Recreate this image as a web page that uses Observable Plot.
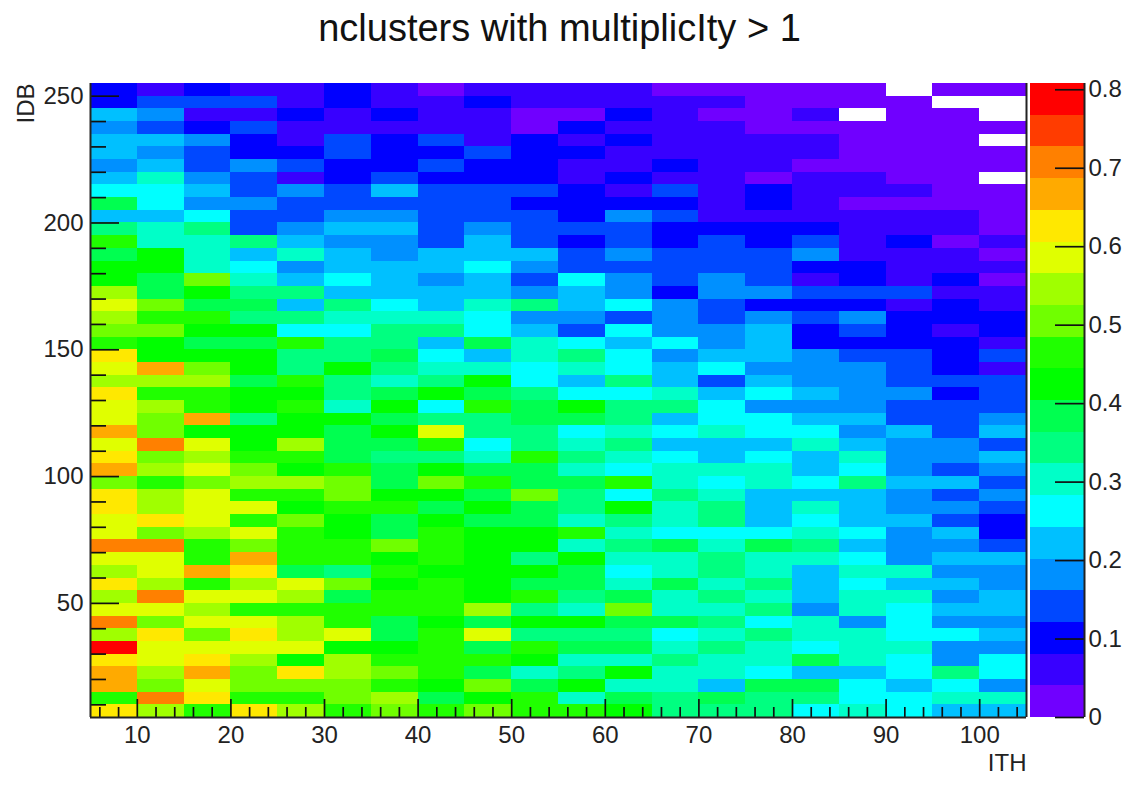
<!DOCTYPE html>
<html>
<head>
<meta charset="utf-8">
<script src="https://cdn.jsdelivr.net/npm/d3@7"></script>
<script src="https://cdn.jsdelivr.net/npm/@observablehq/plot@0.6"></script>
<style>
html,body{margin:0;padding:0;background:#fff;overflow:hidden}
#wrap{position:relative;width:1127px;height:793px}
#wrap svg{position:absolute;left:0;top:0;display:block;max-width:none}
</style>
</head>
<body>
<div id="wrap"></div>
<script>
const titleText = "nclusters with multiplicIty > 1";
// Bin lower edges
const ithEdges = [5,10,15,20,25,30,35,40,45,50,55,60,65,70,75,80,85,90,95,100];
const idbTopEdges = [250,245,240,235,230,225,220,215,210,205,200,195,190,185,180,175,170,165,160,155,150,145,140,135,130,125,120,115,110,105,100,95,90,85,80,75,70,65,60,55,50,45,40,35,30,25,20,15,10,5];
const binWidth = 5;
// Values in hundredths, one row per IDB bin from the top row down; null = empty bin
const valueRows = [
[10,6,10,6,6,10,6,2,6,6,6,6,2,2,2,2,2,null,2,2],
[10,14,14,14,6,10,6,6,10,6,6,6,6,6,2,2,2,2,null,null],
[22,18,6,6,10,6,10,6,6,2,2,10,6,2,2,6,null,2,2,null],
[18,14,10,14,6,6,6,6,6,2,10,6,6,6,2,2,2,2,2,2],
[22,22,18,10,6,14,10,14,6,10,6,10,6,6,6,6,2,2,2,null],
[22,18,14,10,10,14,10,10,14,10,10,6,6,6,6,6,2,2,2,2],
[18,22,14,18,14,10,10,14,10,10,6,6,10,6,6,2,2,2,2,2],
[22,30,18,14,6,10,14,10,10,10,6,10,6,6,2,6,6,2,2,null],
[26,26,22,14,18,14,22,14,14,14,10,6,14,6,10,6,6,6,2,2],
[38,26,18,18,14,14,14,14,14,10,10,10,10,6,10,6,2,2,2,2],
[22,22,26,14,14,18,18,14,14,14,10,18,14,6,6,6,6,6,6,2],
[34,30,34,14,18,22,22,14,18,14,14,14,10,10,10,10,6,6,6,2],
[46,30,30,34,22,18,18,14,22,14,10,14,10,14,10,14,6,10,2,6],
[38,42,30,22,30,22,18,22,22,22,14,18,14,14,14,18,6,6,6,2],
[42,42,30,26,18,22,22,22,26,18,14,14,14,14,14,10,10,6,6,6],
[42,38,50,30,22,26,22,18,22,14,26,18,14,18,14,6,10,6,10,2],
[54,38,42,34,34,22,22,22,22,18,22,18,10,18,18,14,14,14,6,6],
[58,50,38,38,22,34,26,22,30,34,22,26,18,14,10,10,10,6,10,6],
[54,46,46,34,34,30,30,30,26,18,18,14,18,14,18,14,18,10,10,10],
[50,50,42,42,26,26,34,34,26,22,14,26,18,18,22,10,14,10,6,10],
[46,42,38,38,46,34,34,22,38,30,26,22,26,18,22,10,10,10,10,6],
[62,42,42,42,34,34,38,26,22,30,34,26,18,22,22,18,14,14,10,14],
[58,66,50,42,34,42,34,30,30,26,30,26,22,26,18,18,18,14,10,6],
[54,54,54,38,46,34,30,34,42,26,22,34,22,14,22,18,18,14,14,14],
[62,46,46,42,42,34,38,42,38,34,26,26,30,22,26,22,18,18,10,14],
[58,54,46,42,46,30,42,26,46,38,42,34,34,26,18,18,18,14,14,14],
[58,50,66,34,42,42,38,34,34,38,38,34,22,26,26,22,22,14,14,18],
[66,50,42,42,42,38,42,58,34,34,26,30,26,30,26,26,18,22,14,22],
[58,70,58,42,54,38,38,46,26,34,30,34,22,22,22,30,22,18,18,14],
[62,50,54,46,46,38,34,34,30,46,34,30,26,22,26,22,30,18,18,22],
[66,54,58,50,42,46,38,42,38,38,30,26,30,30,30,22,26,18,14,18],
[50,46,50,54,54,50,38,50,46,38,38,46,30,26,30,26,34,22,22,14],
[62,54,58,46,46,50,42,42,38,50,34,26,34,30,22,22,22,18,14,18],
[62,54,58,58,42,46,46,38,42,38,34,42,30,34,22,30,22,18,18,14],
[58,62,58,46,50,42,38,42,38,38,30,34,30,34,22,26,22,22,14,10],
[58,50,54,58,46,42,38,46,42,42,46,30,26,26,26,30,26,18,22,10],
[70,70,46,50,46,46,50,46,42,42,30,34,38,30,38,34,22,18,18,14],
[58,58,46,66,46,46,42,46,42,34,42,30,30,34,30,30,26,18,22,22],
[54,58,66,62,38,34,46,42,42,42,38,26,30,34,30,22,30,30,18,18],
[62,54,46,54,58,50,42,46,42,38,38,30,38,30,34,22,26,22,22,18],
[54,70,58,58,54,38,46,46,42,46,34,38,30,34,30,22,30,30,18,22],
[58,58,54,46,46,46,46,46,54,34,30,50,30,30,34,18,30,26,22,22],
[70,50,58,58,54,46,38,42,38,42,42,38,38,34,26,30,18,26,18,18],
[54,62,50,62,54,58,38,46,58,34,34,34,26,30,34,30,30,26,26,22],
[78,58,58,58,58,42,42,46,38,46,38,38,30,34,30,26,30,30,18,18],
[62,58,62,54,42,54,46,46,46,42,30,30,34,30,30,38,30,26,18,26],
[66,54,66,50,62,54,50,46,38,30,34,42,30,30,26,22,22,26,34,26],
[66,50,58,50,50,50,46,42,50,38,42,30,30,22,38,38,26,22,26,18],
[46,70,62,46,46,50,54,38,42,46,30,38,34,38,34,34,26,26,30,30],
[62,54,46,62,54,46,50,46,50,46,46,42,34,34,34,26,30,26,22,22]
];
// Contour levels and palette
const levelEdges = [0,0.0404,0.0808,0.1212,0.1616,0.202,0.2424,0.2828,0.3232,0.3636,0.404,0.4444,0.4848,0.5252,0.5656,0.606,0.6464,0.6868,0.7272,0.7676,0.808];
const palette = ["#7000ff","#3800ff","#0000ff","#0048ff","#0090ff","#00c0ff","#00ffff","#00ffc8","#00ff80","#00ff50","#00ff00","#20ff00","#70ff00","#a0ff00","#e0ff00","#ffe800","#ffaa00","#ff8000","#ff3c00","#ff0000"];
// Ticks
const xMajor = [10,20,30,40,50,60,70,80,90,100];
const xMinor = [6,8,12,14,16,18,22,24,26,28,32,34,36,38,42,44,46,48,52,54,56,58,62,64,66,68,72,74,76,78,82,84,86,88,92,94,96,98,102,104];
const yMajor = [50,100,150,200,250];
const yMinor = [10,20,30,40,60,70,80,90,110,120,130,140,160,170,180,190,210,220,230,240];
const zTicks = [0,0.1,0.2,0.3,0.4,0.5,0.6,0.7,0.8];

const cells = [];
valueRows.forEach((row, r) => row.forEach((v, c) => {
  if (v !== null) cells.push({x1: ithEdges[c], x2: ithEdges[c] + binWidth, y1: idbTopEdges[r], y2: idbTopEdges[r] + binWidth, v: v / 100});
}));

const font = "'Liberation Sans', Arial, sans-serif";
const W = 1127, H = 793, T = 83, B = 76, L = 90, R = 101;
const tickColor = "#111";
const tickFont = 24;

const main = Plot.plot({
  width: W, height: H,
  marginLeft: L, marginRight: R, marginTop: T, marginBottom: B,
  style: {fontFamily: font, background: "transparent", color: "#222"},
  x: {domain: [5, 105]},
  y: {domain: [5, 255]},
  color: {type: "threshold", domain: levelEdges.slice(1, -1), range: palette},
  marks: [
    Plot.rect(cells, {x1: "x1", x2: "x2", y1: "y1", y2: "y2", fill: "v", shapeRendering: "crispEdges"}),
    Plot.ruleX(xMajor, {x: d => d, insetTop: 634 - 18, stroke: tickColor, strokeWidth: 1.7}),
    Plot.ruleX(xMinor, {x: d => d, insetTop: 634 - 10, stroke: tickColor, strokeWidth: 1.7}),
    Plot.ruleY(yMajor, {y: d => d, insetRight: 936 - 29, stroke: tickColor, strokeWidth: 1.7}),
    Plot.ruleY(yMinor, {y: d => d, insetRight: 936 - 16, stroke: tickColor, strokeWidth: 1.7}),
    Plot.ruleX([5, 105], {stroke: "#222", strokeWidth: 2}),
    Plot.ruleY([5], {stroke: "#222", strokeWidth: 2}),
    Plot.axisX({ticks: xMajor, tickSize: 0, tickPadding: 8, fontSize: tickFont, label: null, anchor: "bottom"}),
    Plot.axisY({ticks: yMajor, tickSize: 0, tickPadding: 7, fontSize: tickFont, label: null, anchor: "left"}),
    Plot.text([titleText], {frameAnchor: "top", dy: -69, dx: 1, fontSize: 38, fill: "#111"}),
    Plot.text(["ITH"], {frameAnchor: "bottom-right", dy: 36, fontSize: tickFont, textAnchor: "end", lineAnchor: "top", fill: "#222"}),
    Plot.text(["IDB"], {frameAnchor: "top-left", dx: -64.5, fontSize: tickFont, rotate: -90, textAnchor: "end", lineAnchor: "middle", fill: "#222"})
  ]
});

const bands = palette.map((fill, i) => ({y1: levelEdges[i], y2: levelEdges[i + 1], fill}));
const bar = Plot.plot({
  width: W, height: H,
  marginLeft: 1030, marginRight: 43, marginTop: T, marginBottom: B,
  style: {fontFamily: font, background: "transparent", color: "#222", pointerEvents: "none"},
  x: {domain: [0, 1], axis: null},
  y: {domain: [0, 0.808]},
  marks: [
    Plot.rect(bands, {x1: 0, x2: 1, y1: "y1", y2: "y2", fill: d => d.fill, shapeRendering: "crispEdges"}),
    Plot.ruleY(zTicks, {y: d => d, insetLeft: 25, stroke: tickColor, strokeWidth: 1.7}),
    Plot.ruleX([1], {stroke: "#222", strokeWidth: 2}),
    Plot.axisY({ticks: zTicks, tickSize: 0, tickPadding: 4, fontSize: tickFont, label: null, anchor: "right", tickFormat: d => String(d)})
  ]
});

const wrap = document.getElementById("wrap");
wrap.append(main, bar);
</script>
</body>
</html>
